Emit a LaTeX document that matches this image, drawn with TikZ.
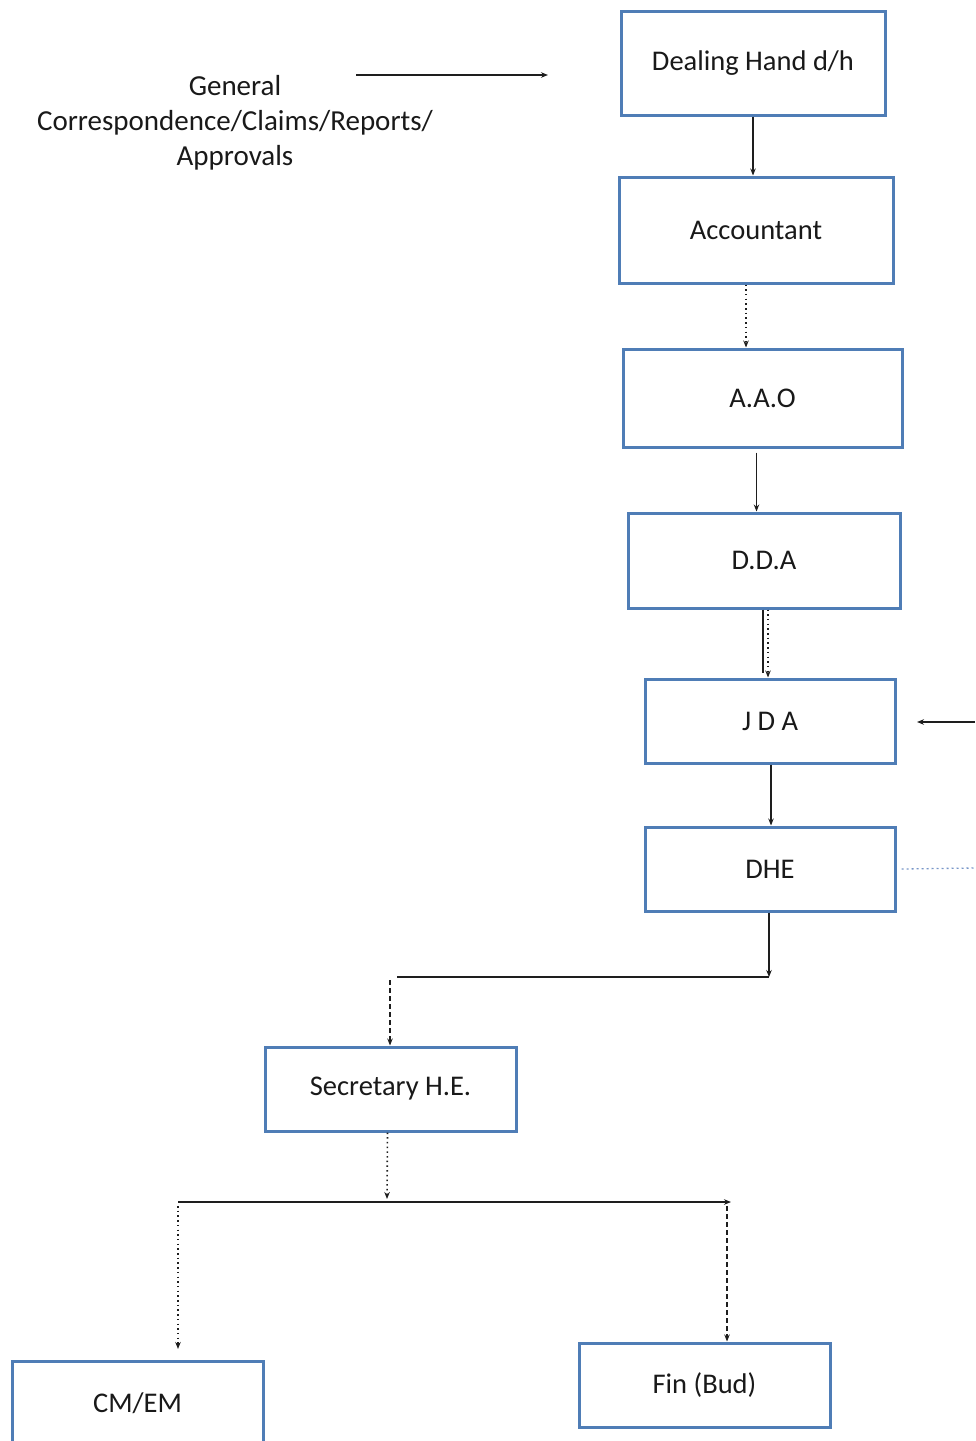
\documentclass[tikz,border=0pt]{standalone}
\usepackage{fontspec}
\setmainfont{Carlito}
\usetikzlibrary{arrows.meta}
\definecolor{boxblue}{RGB}{79,125,182}
\definecolor{linegray}{RGB}{30,30,30}
\definecolor{dotblue}{RGB}{120,150,200}
\begin{document}
\begin{tikzpicture}[x=1pt,y=-1pt,
  box/.style={draw=boxblue, line width=3pt, fill=white, inner sep=0pt,
    font=\fontsize{28.5}{34}\selectfont, text=black!90},
  conn/.style={draw=linegray, line width=1.6pt},
  tip/.style={-{Stealth[length=7pt,width=5.5pt]}},
  dotl/.style={conn, dash pattern=on 1.5pt off 3.2pt},
  dashl/.style={conn, dash pattern=on 5pt off 3pt}]
\useasboundingbox (0,0) rectangle (975,1441);
% boxes
\node[box, minimum width=264pt, minimum height=104pt] (dh) at (753,63) {Dealing Hand d/h};
\node[box, minimum width=274pt, minimum height=106pt] (acc) at (756,230) {Accountant};
\node[box, minimum width=279pt, minimum height=98pt] (aao) at (762.5,398) {A.A.O};
\node[box, minimum width=272pt, minimum height=95pt] (dda) at (764,560.5) {D.D.A};
\node[box, minimum width=250pt, minimum height=84pt] (jda) at (770,721) {J D A};
\node[box, minimum width=250pt, minimum height=84pt] (dhe) at (770,869) {DHE};
\node[box, minimum width=251pt, minimum height=84pt] (sec) at (390.5,1089) {Secretary H.E.};
\node[box, minimum width=251pt, minimum height=84pt] (cm) at (137.5,1403) {CM/EM};
\node[box, minimum width=251pt, minimum height=84pt] (fin) at (704.5,1385) {Fin (Bud)};
% label
\node[font=\fontsize{29}{35}\selectfont, align=center, text=black!90] (gen) at (235,123)
  {General\\Correspondence/Claims/Reports/\\Approvals};
\coordinate (genA) at (356,75);
\coordinate (genB) at (548,75);
\draw[conn, tip] (genA) -- (genB);
% vertical chain
\draw[conn, tip] (dh.south) -- (dh.south |- acc.north);
\draw[dotl, tip] ([xshift=-10pt]acc.south) -- ([xshift=-10pt]acc.south |- aao.north);
\draw[conn, tip] ([xshift=-6pt,yshift=-4pt]aao.south) -- ([xshift=-6pt]aao.south |- dda.north);
\draw[conn] ([xshift=-1pt]dda.south) -- ([xshift=-1pt,yshift=5pt]dda.south |- jda.north);
\draw[dotl, tip] ([xshift=4pt]dda.south) -- ([xshift=4pt]dda.south |- jda.north);
\coordinate (rin) at (975,722);
\coordinate (rtip) at (917,722);
\draw[conn, tip] (rin) -- (rtip);
\draw[conn, tip] ([xshift=1pt]jda.south) -- ([xshift=1pt]jda.south |- dhe.north);
\coordinate (dheR) at (975,868);
\draw[draw=dotblue, line width=1.3pt, dash pattern=on 2pt off 3pt] ([xshift=5pt]dhe.east) -- (dheR);
% DHE to Secretary
\coordinate (j1) at (769,977);
\coordinate (j2) at (397,977);
\coordinate (j3) at (390,980);
\draw[conn, tip] ([xshift=-1pt]dhe.south) -- (j1);
\draw[conn] (j2) -- (j1);
\draw[dashl, tip] (j3) -- (j3 |- sec.north);
% Secretary to branches
\coordinate (k0) at (387,1199);
\draw[dotl, tip] ([xshift=-3pt]sec.south) -- (k0);
\coordinate (kL) at (178,1202);
\coordinate (kR) at (731,1202);
\draw[conn, tip] (kL) -- (kR);
\coordinate (kL2) at (178,1206);
\coordinate (kL3) at (178,1349);
\draw[dotl, tip] (kL2) -- (kL3);
\coordinate (kR2) at (727,1206);
\draw[dashl, tip] (kR2) -- (kR2 |- fin.north);
\end{tikzpicture}
\end{document}
